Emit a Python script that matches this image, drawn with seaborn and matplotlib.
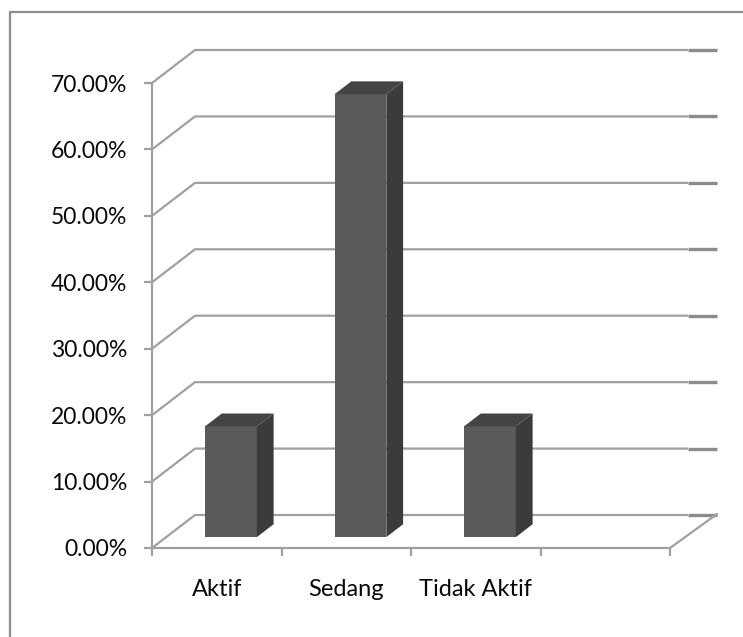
import matplotlib
matplotlib.use("Agg")
import matplotlib.pyplot as plt
import seaborn as sns
import pandas as pd
from matplotlib.patches import Polygon
from matplotlib.lines import Line2D

categories = ["Aktif", "Sedang", "Tidak Aktif"]
values = [16.67, 66.67, 16.67]
y_ticks = [0, 10, 20, 30, 40, 50, 60, 70]
y_tick_labels = [f"{v:.2f}%" for v in y_ticks]

sns.set_theme(style="white")
plt.rcParams['font.family'] = ['Lato', 'DejaVu Sans']

W, H = 743, 637
GRID = "#a0a0a0"
STUB = "#8c8c8c"
FRONT = "#5a5a5a"
SIDE = "#3b3b3b"
TOP = "#444444"

fig = plt.figure(figsize=(W / 100, H / 100), dpi=100)
ax = fig.add_axes([152 / W, 1 - 548 / H, (670 - 152) / W, (548 - 83) / H])
df = pd.DataFrame({"cat": categories, "val": values})
sns.barplot(data=df, x="cat", y="val", color=FRONT, width=0.40, saturation=1,
            ax=ax, zorder=3)
ax.set_xlim(-0.5, 3.5)
ax.set_ylim(0, 70)
ax.patch.set_alpha(0)

# pixel -> data scales
p0 = ax.transData.transform((0, 0))
p1 = ax.transData.transform((1, 1))
sx = p1[0] - p0[0]
sy = p1[1] - p0[1]
DX, DY = 43.0, 33.0  # full depth in pixels


def off(d):
    return d * DX / sx, d * DY / sy


OXw, OYw = off(1.0)

# back wall gridlines + diagonals on the left wall
for v in y_ticks:
    ax.add_line(Line2D([-0.5, -0.5 + OXw, 3.5 + 18 / sx], [v, v + OYw, v + OYw],
                       color=GRID, lw=1.6, zorder=1, clip_on=False,
                       solid_capstyle="butt"))
    ax.add_line(Line2D([3.5 + 18 / sx, 3.5 + 47 / sx], [v + OYw, v + OYw],
                       color=STUB, lw=2.4, zorder=1, clip_on=False,
                       solid_capstyle="butt"))
# right floor edge
ax.add_line(Line2D([3.5, 3.5 + 47 / sx], [0, 34 / sy], color=GRID, lw=1.6,
                   zorder=1, clip_on=False))

# 3D bar faces
ox1, oy1 = off(0.33)
ox2, oy2 = off(0.72)
for p in list(ax.patches):
    x0 = p.get_x()
    w = p.get_width()
    h = p.get_height()
    p.set_x(x0 + ox1)
    p.set_y(oy1)
    p.set_edgecolor("none")
    xr = x0 + w
    side = Polygon([(xr + ox1, oy1), (xr + ox2, oy2), (xr + ox2, h + oy2),
                    (xr + ox1, h + oy1)], closed=True, facecolor=SIDE,
                   edgecolor="none", zorder=3, clip_on=False)
    top = Polygon([(x0 + ox1, h + oy1), (xr + ox1, h + oy1), (xr + ox2, h + oy2),
                   (x0 + ox2, h + oy2)], closed=True, facecolor=TOP,
                  edgecolor="none", zorder=3, clip_on=False)
    ax.add_patch(side)
    ax.add_patch(top)
    p.set_clip_on(False)

# axes styling
for s in ["top", "right"]:
    ax.spines[s].set_visible(False)
for s in ["left", "bottom"]:
    ax.spines[s].set_color(GRID)
    ax.spines[s].set_linewidth(1.6)
    ax.spines[s].set_zorder(2)

ax.set_yticks(y_ticks, y_tick_labels)
ax.tick_params(axis="y", which="major", left=True, length=5.8, width=1.6,
               color=GRID, pad=12, labelsize=16.5, labelcolor="#0a0a0a")
ax.set_xticks([0, 1, 2], categories)
ax.set_xticks([-0.5, 0.5, 1.5, 2.5, 3.5], minor=True)
ax.tick_params(axis="x", which="major", bottom=True, length=0, pad=22,
               labelsize=17, labelcolor="#0a0a0a")
ax.tick_params(axis="x", which="minor", bottom=True, length=5.8, width=1.6,
               color=GRID)
ax.set_xlabel("")
ax.set_ylabel("")

# outer chart frame (partially visible)
fig.add_artist(Line2D([10 / W, 10 / W], [0, 1 - 12 / H], color="#8c8c8c", lw=1.6,
                      transform=fig.transFigure))
fig.add_artist(Line2D([10 / W, 1], [1 - 12 / H, 1 - 12 / H], color="#8c8c8c",
                      lw=1.6, transform=fig.transFigure))

fig.savefig("out.png", dpi=100, facecolor="white")
